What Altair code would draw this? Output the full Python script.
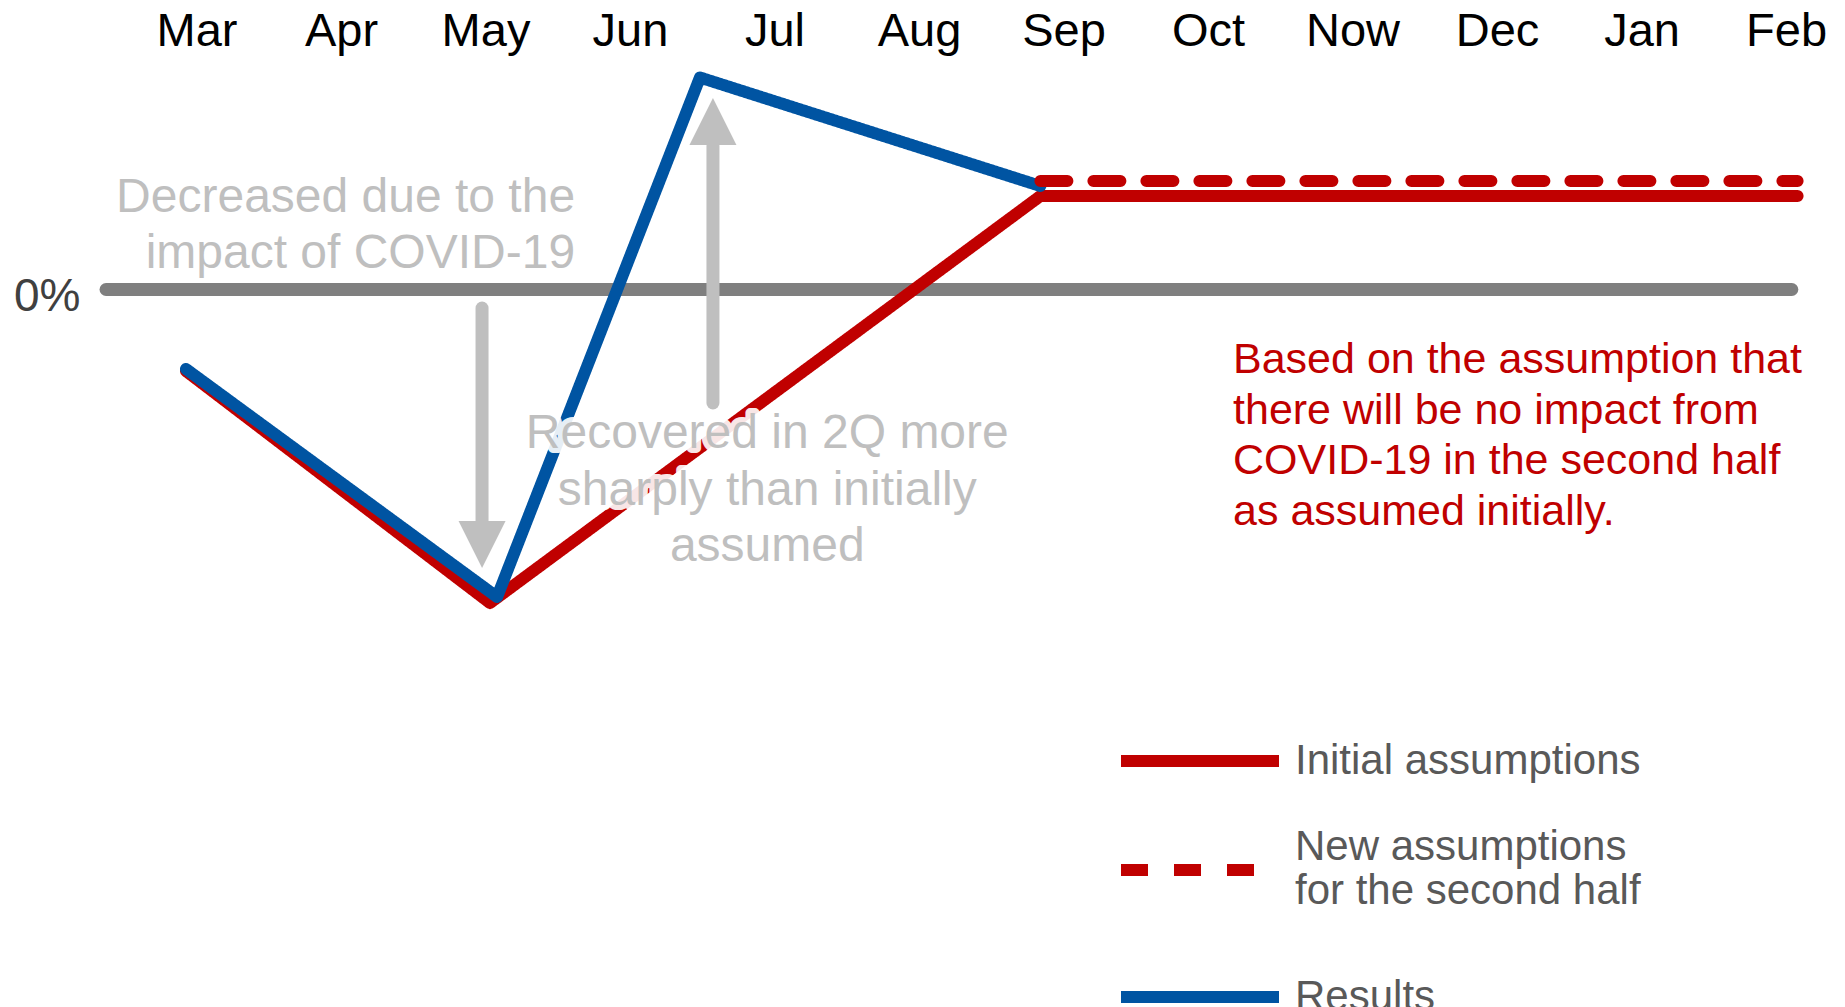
import json
import altair as alt
import pandas as pd

# ---------------- data ----------------
months = ["Mar", "Apr", "May", "Jun", "Jul", "Aug", "Sep", "Oct", "Now", "Dec", "Jan", "Feb"]
month_pos = list(range(len(months)))

series_names = ["Initial assumptions", "New assumptions for the second half", "Results"]
series_colors = ["#C00000", "#C00000", "#0054A2"]
series_dash = [[1, 0], [27, 26], [1, 0]]
legend_label_lines = ["New assumptions", "\u00a0for the second half"]

initial_x = [-0.073, 2.031, 5.84, 11.08]
initial_y = [-8.15, -31.35, 9.35, 9.35]
new_x = [5.84, 11.08]
new_y = [10.85, 10.85]
results_x = [-0.073, 2.08, 3.484, 5.84]
results_y = [-7.95, -30.75, 21.2, 10.35]

zero_start = [-0.626]
zero_end = [11.04]
zero_level = [0.0]

arrow_x = [1.976, 3.574]
arrow_tail = [-1.85, -11.35]
arrow_neck = [-23.25, 14.35]
arrow_tip = [-27.85, 19.15]
arrow_dir = ["down", "up"]

note_decreased = ["Decreased due to the", "impact of COVID-19"]
note_decreased_x = [2.62]
note_decreased_y = [7.75]
note_recovered = ["Recovered in 2Q more", "sharply than initially", "assumed"]
note_recovered_x = [3.95]
note_recovered_y = [-15.85]
note_basis = ["Based on the assumption that", "there will be no impact from",
              "COVID-19 in the second half", "as assumed initially."]
note_basis_x = [7.173]
note_basis_y = [-8.35]

# ---------------- tables ----------------
lines_df = pd.concat([
    pd.DataFrame({"m": initial_x, "v": initial_y, "series": series_names[0]}),
    pd.DataFrame({"m": results_x, "v": results_y, "series": series_names[2]}),
    pd.DataFrame({"m": new_x, "v": new_y, "series": series_names[1]}),
], ignore_index=True)
lines_df["order"] = range(len(lines_df))

zero_df = pd.DataFrame({"m": zero_start, "m2": zero_end, "v": zero_level})
arrows_df = pd.DataFrame({"m": arrow_x, "v": arrow_tail, "v2": arrow_neck,
                          "tip": arrow_tip, "dir": arrow_dir})


def note_df(lines, xs, ys):
    return pd.DataFrame({"m": xs, "v": ys, "label": ["\n".join(lines)]})


FONT = "Liberation Sans"

xs = alt.Scale(domain=[-0.737, 11.235], nice=False, zero=False)
ys = alt.Scale(domain=[-71.75, 22.95], nice=False, zero=False)

x_axis = alt.Axis(orient="top", values=month_pos,
                  labelExpr=json.dumps(months) + "[datum.value]",
                  domain=False, ticks=False, tickSize=0, grid=False,
                  labelFontSize=47, labelFont=FONT, labelColor="#000000",
                  labelBaseline="alphabetic", labelPadding=15, title=None,
                  labelOverlap=False, labelFlush=False)
y_axis = alt.Axis(orient="left", values=[0], labelExpr="'0%'",
                  domain=False, ticks=False, tickSize=0, grid=False,
                  labelFontSize=46, labelFont=FONT, labelColor="#404040",
                  labelBaseline="alphabetic", labelOffset=21, labelPadding=10,
                  title=None)

X = alt.X("m:Q", scale=xs, axis=x_axis, title=None)
Y = alt.Y("v:Q", scale=ys, axis=y_axis, title=None)

two_line_test = "datum.label == " + json.dumps(series_names[1])
legend = alt.Legend(
    orient="none", legendX=1025, legendY=616, title=None, direction="vertical",
    symbolType="stroke", symbolSize=24964, symbolStrokeWidth=12,
    labelFontSize=42, labelFont=FONT, labelColor="#595959", labelLimit=900,
    labelOffset=10, rowPadding=0, padding=0,
    labelBaseline={"expr": "(" + two_line_test + ") ? 'line-bottom' : 'middle'"},
    labelExpr="(" + two_line_test + ") ? " + json.dumps(legend_label_lines) + " : datum.label",
)
color = alt.Color("series:N", scale=alt.Scale(domain=series_names, range=series_colors),
                  legend=legend)
dash = alt.StrokeDash("series:N", scale=alt.Scale(domain=series_names, range=series_dash),
                      legend=legend)

base_lines = alt.Chart(lines_df)


def series_layer(name):
    return base_lines.transform_filter(alt.datum.series == name).mark_line(
        strokeWidth=12, strokeCap="round", strokeJoin="round"
    ).encode(x=X, y=Y, color=color, strokeDash=dash, order="order:Q")


zero_rule = alt.Chart(zero_df).mark_rule(
    color="#7F7F7F", strokeWidth=13, strokeCap="round"
).encode(x=X, x2="m2:Q", y=Y)

shafts = alt.Chart(arrows_df).mark_rule(
    color="#BFBFBF", strokeWidth=13, strokeCap="round"
).encode(x=X, y=Y, y2="v2:Q")

head_down = alt.Chart(arrows_df).transform_filter(alt.datum.dir == "down").mark_point(
    shape="M -1 -1 L 1 -1 L 0 1 Z", size=2209, filled=True, opacity=1,
    color="#BFBFBF", strokeWidth=0, yOffset=-23.5
).encode(x=X, y=alt.Y("tip:Q", scale=ys, axis=y_axis, title=None))

head_up = alt.Chart(arrows_df).transform_filter(alt.datum.dir == "up").mark_point(
    shape="M -1 1 L 1 1 L 0 -1 Z", size=2209, filled=True, opacity=1,
    color="#BFBFBF", strokeWidth=0, yOffset=23.5
).encode(x=X, y=alt.Y("tip:Q", scale=ys, axis=y_axis, title=None))


def note_layers(df, align, color_, size, lh, halo):
    layers = []
    if halo:
        layers.append(alt.Chart(df).mark_text(
            align=align, baseline="alphabetic", font=FONT, fontSize=size,
            lineBreak="\n", lineHeight=lh, color="white", stroke="white",
            strokeWidth=10, strokeJoin="round", opacity=0.9
        ).encode(x=X, y=Y, text="label:N"))
    layers.append(alt.Chart(df).mark_text(
        align=align, baseline="alphabetic", font=FONT, fontSize=size,
        lineBreak="\n", lineHeight=lh, color=color_
    ).encode(x=X, y=Y, text="label:N"))
    return layers


dec_df = note_df(note_decreased, note_decreased_x, note_decreased_y)
rec_df = note_df(note_recovered, note_recovered_x, note_recovered_y)
bas_df = note_df(note_basis, note_basis_x, note_basis_y)

layers = [zero_rule, shafts, head_down, head_up,
          series_layer(series_names[0]),
          series_layer(series_names[2]),
          series_layer(series_names[1])]
layers += note_layers(dec_df, "right", "#BFBFBF", 48, 56, True)
layers += note_layers(rec_df, "center", "#BFBFBF", 48, 56.5, True)
layers += note_layers(bas_df, "left", "#C00000", 43, 50.6, False)

chart = alt.layer(*layers).properties(
    width=1730, height=947,
    padding={"left": 90, "top": 60, "right": 25, "bottom": 0},
    autosize=alt.AutoSizeParams(type="none"),
    background="white",
).configure_view(stroke=None)

chart.save("out.html", embed_options={"renderer": "svg", "actions": False})
